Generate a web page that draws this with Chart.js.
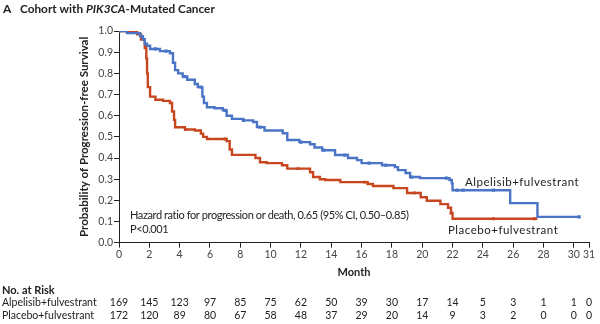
<!DOCTYPE html>
<html>
<head>
<meta charset="utf-8">
<script src="https://cdn.jsdelivr.net/npm/chart.js@4.4.1/dist/chart.umd.min.js"></script>
<style>
  html, body { margin: 0; padding: 0; background: #fff; }
  #wrap { position: relative; width: 600px; height: 324px; }
</style>
</head>
<body>
<div id="wrap"><canvas id="km" width="600" height="324"></canvas></div>
<script>
/* Kaplan-Meier, значения: время (мес.) и выживаемость после события */
const alpTimes = [0, 0.53, 1.39, 1.58, 1.7, 1.85, 2.05, 2.7, 3.36, 3.56, 3.7, 3.9, 4.2, 4.5, 5.0, 5.2, 5.5, 5.6, 5.8,
  6.3, 6.85, 7.1, 7.45, 8.2, 8.85, 9.1, 9.6, 10.8, 11.1, 11.9, 12.6, 12.9, 13.4, 14.25, 15.1, 15.7, 16.0,
  17.35, 18.2, 18.4, 18.9, 19.2, 19.85, 21.8, 21.95, 22.0, 25.8, 27.6, 30.35];
const alpSurv = [1.0, 0.99, 0.975, 0.96, 0.94, 0.93, 0.915, 0.905, 0.895, 0.85, 0.815, 0.80, 0.785, 0.77, 0.75, 0.735, 0.69, 0.66, 0.64,
  0.635, 0.625, 0.60, 0.585, 0.578, 0.57, 0.546, 0.53, 0.517, 0.485, 0.475, 0.465, 0.45, 0.437, 0.414, 0.40, 0.39, 0.376,
  0.366, 0.357, 0.343, 0.329, 0.31, 0.305, 0.296, 0.28, 0.248, 0.187, 0.122, 0.122];

const pboTimes = [0, 0.6, 1.2, 1.45, 1.7, 1.8, 1.85, 1.9, 2.05, 2.4, 2.9, 3.36, 3.5, 3.63, 3.7, 4.35, 5.0, 5.4, 5.55, 5.8,
  7.1, 7.3, 7.45, 9.0, 9.3, 9.75, 10.75, 11.1, 12.6, 12.8, 13.25, 13.6, 14.6, 16.4, 16.75, 18.1, 19.0, 19.9,
  20.3, 21.2, 21.7, 21.9, 22.0, 27.6];
const pboSurv = [1.0, 0.995, 0.985, 0.96, 0.92, 0.87, 0.80, 0.735, 0.69, 0.675, 0.67, 0.66, 0.62, 0.58, 0.545, 0.535, 0.53, 0.515, 0.50, 0.49,
  0.48, 0.44, 0.415, 0.40, 0.38, 0.376, 0.366, 0.35, 0.333, 0.31, 0.30, 0.296, 0.286, 0.277, 0.268, 0.258, 0.235, 0.215,
  0.198, 0.182, 0.165, 0.14, 0.113, 0.113];

// цензурированные наблюдения (метки на кривых)
const alpCensor = [0, 2.4, 3.1, 4.3, 5.4, 7.0, 8.2, 9.3, 12.0, 13.5, 14.9, 16.5, 17.6, 19.3, 21.6, 22.3, 22.7, 24.7, 30.35];
const pboCensor = [0.5, 4.4, 7.0, 11.8, 16.2, 19.5, 21.9, 24.7, 27.4];

// число под риском
const riskTimes = [0, 2, 4, 6, 8, 10, 12, 14, 16, 18, 20, 22, 24, 26, 28, 30, 31];
const riskAlp = [169, 145, 123, 97, 85, 75, 62, 50, 39, 30, 17, 14, 5, 3, 1, 1, 0];
const riskPbo = [172, 120, 89, 80, 67, 58, 48, 37, 29, 20, 14, 9, 3, 2, 0, 0, 0];

const xTicks = riskTimes;
const yTicks = [0, 0.1, 0.2, 0.3, 0.4, 0.5, 0.6, 0.7, 0.8, 0.9, 1.0];

const BLUE = '#4a74c6', RED = '#c8461f';
const FONT = 'Lato, "Open Sans", sans-serif';

function survAt(times, surv, t) {
  let s = 1;
  for (let i = 0; i < times.length; i++) if (times[i] <= t) s = surv[i];
  return s;
}
const toPts = (ts, ss) => ts.map((t, i) => ({ x: t, y: ss[i] }));

// подписи, таблица риска, заголовки — рисуем поверх
const textPlugin = {
  id: 'kmText',
  afterDraw(chart) {
    const { ctx, scales: { x, y } } = chart;
    ctx.save();
    ctx.fillStyle = '#222';
    ctx.textBaseline = 'middle';

    // заголовок панели
    ctx.textAlign = 'left';
    ctx.font = `bold 12px ${FONT}`;
    ctx.fillText('A', 3, 9);
    let cx = 20;
    ctx.font = `bold 11.8px ${FONT}`;
    ctx.fillText('Cohort with ', cx, 9); cx += ctx.measureText('Cohort with ').width;
    ctx.font = `italic bold 11.8px ${FONT}`;
    ctx.fillText('PIK3CA', cx, 9); cx += ctx.measureText('PIK3CA').width;
    ctx.font = `bold 11.8px ${FONT}`;
    ctx.fillText('-Mutated Cancer', cx, 9);

    // заголовок оси Y
    ctx.save();
    ctx.translate(84, (y.top + y.bottom) / 2);
    ctx.rotate(-Math.PI / 2);
    ctx.textAlign = 'center';
    ctx.font = `bold 11.5px ${FONT}`;
    ctx.fillText('Probability of Progression-free Survival', 0, 0);
    ctx.restore();

    // ось X
    ctx.textAlign = 'center';
    ctx.font = `bold 11px ${FONT}`;
    ctx.fillText('Month', (x.left + x.right) / 2, 272);

    // подписи кривых и HR
    ctx.font = `11.5px ${FONT}`;
    ctx.textAlign = 'left';
    ctx.letterSpacing = '0.5px';
    ctx.fillText('Alpelisib+fulvestrant', 465, 182);
    ctx.fillText('Placebo+fulvestrant', 448, 230);
    ctx.font = `11px ${FONT}`;
    ctx.letterSpacing = '-0.4px';
    ctx.fillText('Hazard ratio for progression or death, 0.65 (95% CI, 0.50\u20130.85)', 130, 215);
    ctx.fillText('P<0.001', 130, 229);
    ctx.letterSpacing = '0px';

    // таблица «No. at Risk»
    ctx.font = `bold 11px ${FONT}`;
    ctx.fillText('No. at Risk', 2, 290);
    ctx.font = `10.5px ${FONT}`;
    ctx.fillText('Alpelisib+fulvestrant', 2, 303);
    ctx.fillText('Placebo+fulvestrant', 2, 316);
    ctx.textAlign = 'center';
    riskTimes.forEach((t, i) => {
      const px = x.getPixelForValue(t);
      ctx.fillText(String(riskAlp[i]), px, 303);
      ctx.fillText(String(riskPbo[i]), px, 316);
    });
    ctx.restore();
  }
};

new Chart(document.getElementById('km').getContext('2d'), {
  type: 'line',
  data: {
    datasets: [
      { label: 'Alpelisib+fulvestrant', data: toPts(alpTimes, alpSurv), stepped: true, borderColor: BLUE, borderWidth: 2.4, pointRadius: 0, fill: false },
      { label: 'Placebo+fulvestrant', data: toPts(pboTimes, pboSurv), stepped: true, borderColor: RED, borderWidth: 2.4, pointRadius: 0, fill: false },
      { type: 'scatter', data: alpCensor.map(t => ({ x: t, y: survAt(alpTimes, alpSurv, t) })), pointStyle: 'rect', pointRadius: 2.3, backgroundColor: BLUE, borderColor: BLUE, borderWidth: 0 },
      { type: 'scatter', data: pboCensor.map(t => ({ x: t, y: survAt(pboTimes, pboSurv, t) })), pointStyle: 'rect', pointRadius: 2, backgroundColor: RED, borderColor: RED, borderWidth: 0 },
    ],
  },
  options: {
    responsive: false,
    animation: false,
    layout: { padding: { left: 0, right: 11, top: 31, bottom: 0 } },
    plugins: { legend: { display: false }, tooltip: { enabled: false } },
    scales: {
      x: {
        type: 'linear', min: 0, max: 31,
        afterBuildTicks: s => { s.ticks = xTicks.map(v => ({ value: v })); },
        afterFit: s => { s.height = 81.3; },
        grid: { drawOnChartArea: false, drawTicks: true, tickLength: 5, tickColor: '#222' },
        border: { display: true, color: '#222', width: 1 },
        ticks: { autoSkip: false, maxRotation: 0, padding: 1, color: '#444', font: { family: FONT, size: 10.5 } },
      },
      y: {
        min: 0, max: 1,
        afterBuildTicks: s => { s.ticks = yTicks.map(v => ({ value: v })); },
        afterFit: s => { s.width = 119; },
        grid: { drawOnChartArea: false, drawTicks: true, tickLength: 5, tickColor: '#222' },
        border: { display: true, color: '#222', width: 1 },
        ticks: { padding: 1, color: '#444', font: { family: FONT, size: 10.5 }, callback: v => v.toFixed(1) },
      },
    },
  },
  plugins: [textPlugin],
});
</script>
</body>
</html>
